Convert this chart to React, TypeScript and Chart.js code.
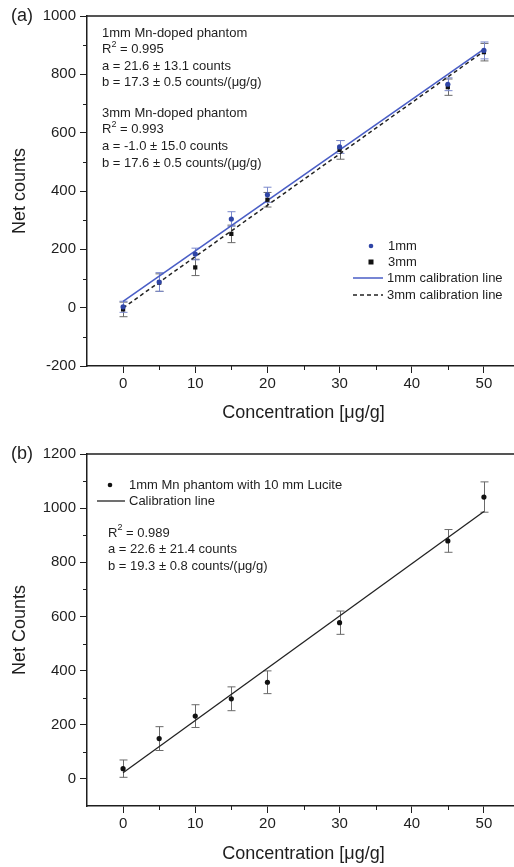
import React, { useEffect, useRef } from 'react';
import { Chart, registerables } from 'chart.js';

Chart.register(...registerables);

const FONT = '"Liberation Sans", Arial, Helvetica, sans-serif';
const TXT = '#1e1e1e';

// ---------- Panel (a) data ----------
const concA = [0, 5, 10, 15, 20, 30, 45, 50];
const counts1mm = [3, 88, 184, 304, 387, 551, 766, 882];
const err1mm = [19, 32, 20, 25, 26, 22, 22, 29];
const counts3mm = [-6, 86, 138, 253, 370, 541, 756, 876];
const err3mm = [25, 30, 28, 30, 25, 32, 28, 30];
const fitXA = [0, 50];
const fit1mm = [21.6, 886.6];
const fit3mm = [-1.0, 879.0];
const yTicksA = [-200, 0, 200, 400, 600, 800, 1000];
const yMinorA = [-100, 100, 300, 500, 700, 900];
const annotA1 = ['1mm Mn-doped phantom', 'R^2 = 0.995', 'a = 21.6 ± 13.1 counts', 'b = 17.3 ± 0.5 counts/(μg/g)'];
const annotA2 = ['3mm Mn-doped phantom', 'R^2 = 0.993', 'a = -1.0 ± 15.0 counts', 'b = 17.6 ± 0.5 counts/(μg/g)'];
const legendA = ['1mm', '3mm', '1mm calibration line', '3mm calibration line'];

// ---------- Panel (b) data ----------
const concB = [0, 5, 10, 15, 20, 30, 45, 50];
const countsB = [38, 149, 232, 296, 357, 577, 879, 1041];
const errB = [32, 44, 42, 44, 42, 43, 42, 56];
const fitXB = [0, 50];
const fitB = [22.6, 987.6];
const yTicksB = [0, 200, 400, 600, 800, 1000, 1200];
const yMinorB = [100, 300, 500, 700, 900, 1100];
const annotB = ['R^2 = 0.989', 'a = 22.6 ± 21.4 counts', 'b = 19.3 ± 0.8 counts/(μg/g)'];
const legendB = ['1mm Mn phantom with 10 mm Lucite', 'Calibration line'];

// shared x axis
const xTicks = [0, 10, 20, 30, 40, 50];
const xMinor = [5, 15, 25, 35, 45];

const BLUE_PT = '#2f45a6';
const BLUE_LINE = '#4a5ec6';
const BLUE_ERR = '#7a88cc';
const GRAY_ERR = '#6a6a6a';

function drawAnnotLine(ctx: CanvasRenderingContext2D, t: string, x: number, y: number) {
  ctx.font = `13px ${FONT}`;
  ctx.fillStyle = TXT;
  ctx.textBaseline = 'middle';
  ctx.textAlign = 'left';
  if (t.startsWith('R^2')) {
    ctx.fillText('R', x, y);
    const w = ctx.measureText('R').width;
    ctx.font = `9px ${FONT}`;
    ctx.fillText('2', x + w, y - 5);
    const w2 = ctx.measureText('2').width;
    ctx.font = `13px ${FONT}`;
    ctx.fillText(t.slice(3), x + w + w2, y);
  } else {
    ctx.fillText(t, x, y);
  }
}

type ErrSet = { xs: number[]; ys: number[]; errs: number[]; color: string };

function makePlugin(opts: {
  label: string;
  labelY: number;
  errSets: ErrSet[];
  yMinor: number[];
  extra: (ctx: CanvasRenderingContext2D) => void;
}) {
  return {
    id: 'custom' + opts.label,
    beforeDatasetsDraw(chart: any) {
      const ctx = chart.ctx as CanvasRenderingContext2D;
      const xs = chart.scales.x;
      const ys = chart.scales.y;
      ctx.save();
      for (const s of opts.errSets) {
        ctx.strokeStyle = s.color;
        ctx.lineWidth = 1;
        s.xs.forEach((xv, i) => {
          const px = Math.round(xs.getPixelForValue(xv)) + 0.5;
          const y1 = ys.getPixelForValue(s.ys[i] + s.errs[i]);
          const y2 = ys.getPixelForValue(s.ys[i] - s.errs[i]);
          ctx.beginPath();
          ctx.moveTo(px, y1);
          ctx.lineTo(px, y2);
          ctx.moveTo(px - 4, y1);
          ctx.lineTo(px + 4, y1);
          ctx.moveTo(px - 4, y2);
          ctx.lineTo(px + 4, y2);
          ctx.stroke();
        });
      }
      ctx.restore();
    },
    afterDraw(chart: any) {
      const ctx = chart.ctx as CanvasRenderingContext2D;
      const { left, right, top, bottom } = chart.chartArea;
      const xs = chart.scales.x;
      const ys = chart.scales.y;
      ctx.save();
      // frame
      ctx.strokeStyle = TXT;
      ctx.lineWidth = 1.5;
      ctx.beginPath();
      ctx.moveTo(left, top);
      ctx.lineTo(right, top);
      ctx.lineTo(right, bottom);
      ctx.stroke();
      // minor ticks
      ctx.lineWidth = 1;
      ctx.beginPath();
      for (const v of xMinor) {
        const px = Math.round(xs.getPixelForValue(v)) + 0.5;
        ctx.moveTo(px, bottom);
        ctx.lineTo(px, bottom + 4);
      }
      for (const v of opts.yMinor) {
        const py = Math.round(ys.getPixelForValue(v)) + 0.5;
        ctx.moveTo(left, py);
        ctx.lineTo(left - 4, py);
      }
      ctx.stroke();
      // panel label
      ctx.font = `18px ${FONT}`;
      ctx.fillStyle = TXT;
      ctx.textAlign = 'left';
      ctx.textBaseline = 'middle';
      ctx.fillText(opts.label, 11, opts.labelY);
      opts.extra(ctx);
      ctx.restore();
    },
  };
}

function configA(): any {
  const plugin = makePlugin({
    label: '(a)',
    labelY: 16,
    errSets: [
      { xs: concA, ys: counts3mm, errs: err3mm, color: GRAY_ERR },
      { xs: concA, ys: counts1mm, errs: err1mm, color: BLUE_ERR },
    ],
    yMinor: yMinorA,
    extra: (ctx) => {
      annotA1.forEach((t, i) => drawAnnotLine(ctx, t, 102, 33 + i * 16.5));
      annotA2.forEach((t, i) => drawAnnotLine(ctx, t, 102, 113 + i * 16.8));
      // legend
      const lx = 388;
      const ly = [246, 262, 278, 295];
      ctx.fillStyle = BLUE_PT;
      ctx.beginPath();
      ctx.arc(371, ly[0], 2.3, 0, Math.PI * 2);
      ctx.fill();
      ctx.fillStyle = '#111';
      ctx.fillRect(368.5, ly[1] - 2.5, 5, 5);
      ctx.lineWidth = 1.5;
      ctx.strokeStyle = BLUE_LINE;
      ctx.beginPath();
      ctx.moveTo(353, ly[2]);
      ctx.lineTo(383, ly[2]);
      ctx.stroke();
      ctx.strokeStyle = '#222';
      ctx.setLineDash([4, 3]);
      ctx.beginPath();
      ctx.moveTo(353, ly[3]);
      ctx.lineTo(383, ly[3]);
      ctx.stroke();
      ctx.setLineDash([]);
      legendA.forEach((t, i) => drawAnnotLine(ctx, t, i < 2 ? lx : 387, ly[i]));
    },
  });
  return {
    type: 'scatter',
    data: {
      datasets: [
        {
          label: '1mm',
          data: concA.map((x, i) => ({ x, y: counts1mm[i] })),
          pointStyle: 'circle',
          pointRadius: 2.6,
          pointBackgroundColor: BLUE_PT,
          pointBorderWidth: 0,
          showLine: false,
        },
        {
          label: '3mm',
          data: concA.map((x, i) => ({ x, y: counts3mm[i] })),
          pointStyle: 'rect',
          pointRadius: 3,
          pointBackgroundColor: '#111',
          pointBorderWidth: 0,
          showLine: false,
        },
        {
          type: 'line',
          label: '1mm calibration line',
          data: fitXA.map((x, i) => ({ x, y: fit1mm[i] })),
          borderColor: BLUE_LINE,
          borderWidth: 1.6,
          pointRadius: 0,
          fill: false,
        },
        {
          type: 'line',
          label: '3mm calibration line',
          data: fitXA.map((x, i) => ({ x, y: fit3mm[i] })),
          borderColor: '#222',
          borderWidth: 1.5,
          borderDash: [4, 3],
          pointRadius: 0,
          fill: false,
        },
      ],
    },
    options: commonOptions(-200, 1000, yTicksA, 'Net counts', 16, 64, 6),
    plugins: [plugin],
  };
}

function configB(): any {
  const plugin = makePlugin({
    label: '(b)',
    labelY: 24,
    errSets: [{ xs: concB, ys: countsB, errs: errB, color: GRAY_ERR }],
    yMinor: yMinorB,
    extra: (ctx) => {
      // legend
      ctx.fillStyle = '#111';
      ctx.beginPath();
      ctx.arc(110, 55, 2.3, 0, Math.PI * 2);
      ctx.fill();
      ctx.strokeStyle = '#222';
      ctx.lineWidth = 1.3;
      ctx.beginPath();
      ctx.moveTo(97, 71);
      ctx.lineTo(125, 71);
      ctx.stroke();
      drawAnnotLine(ctx, legendB[0], 129, 55);
      drawAnnotLine(ctx, legendB[1], 129, 71);
      annotB.forEach((t, i) => drawAnnotLine(ctx, t, 108, 103 + i * 16.7));
    },
  });
  return {
    type: 'scatter',
    data: {
      datasets: [
        {
          label: '1mm Mn phantom with 10 mm Lucite',
          data: concB.map((x, i) => ({ x, y: countsB[i] })),
          pointStyle: 'circle',
          pointRadius: 2.6,
          pointBackgroundColor: '#111',
          pointBorderWidth: 0,
          showLine: false,
        },
        {
          type: 'line',
          label: 'Calibration line',
          data: fitXB.map((x, i) => ({ x, y: fitB[i] })),
          borderColor: '#222',
          borderWidth: 1.3,
          pointRadius: 0,
          fill: false,
        },
      ],
    },
    options: commonOptions(-100, 1200, yTicksB, 'Net Counts', 24, 61, 2),
    plugins: [plugin],
  };
}

function commonOptions(
  yMin: number,
  yMax: number,
  yTicks: number[],
  yTitle: string,
  padTop: number,
  xHeight: number,
  xTitlePadBottom: number
): any {
  return {
    responsive: false,
    animation: false,
    layout: { padding: { top: padTop, right: 4, left: 0, bottom: 0 } },
    plugins: { legend: { display: false }, tooltip: { enabled: false } },
    scales: {
      x: {
        type: 'linear',
        position: 'bottom',
        min: -5,
        max: 55,
        afterBuildTicks: (s: any) => {
          s.ticks = xTicks.map((v) => ({ value: v }));
        },
        afterFit: (s: any) => {
          s.height = xHeight;
        },
        ticks: {
          font: { family: FONT, size: 15 },
          color: TXT,
          padding: 2,
          maxRotation: 0,
          callback: (v: number) => String(v),
        },
        grid: { drawOnChartArea: false, tickLength: 7, tickColor: TXT, tickWidth: 1 },
        border: { color: TXT, width: 1.5 },
        title: {
          display: true,
          text: 'Concentration [μg/g]',
          font: { family: FONT, size: 18 },
          color: TXT,
          padding: { top: 0, bottom: xTitlePadBottom },
        },
      },
      y: {
        type: 'linear',
        position: 'left',
        min: yMin,
        max: yMax,
        afterBuildTicks: (s: any) => {
          s.ticks = yTicks.map((v) => ({ value: v }));
        },
        afterFit: (s: any) => {
          s.width = 87;
        },
        ticks: {
          font: { family: FONT, size: 15 },
          color: TXT,
          padding: 4,
          callback: (v: number) => String(v),
        },
        grid: { drawOnChartArea: false, tickLength: 7, tickColor: TXT, tickWidth: 1 },
        border: { color: TXT, width: 1.5 },
        title: {
          display: true,
          text: yTitle,
          font: { family: FONT, size: 18 },
          color: TXT,
          padding: { top: 9, bottom: 0 },
        },
      },
    },
  };
}

function Panel({ makeConfig, top, width, height }: { makeConfig: () => any; top: number; width: number; height: number }) {
  const ref = useRef<HTMLCanvasElement>(null);
  useEffect(() => {
    const chart = new Chart(ref.current as HTMLCanvasElement, makeConfig());
    return () => chart.destroy();
  }, []);
  return (
    <canvas
      ref={ref}
      width={width}
      height={height}
      style={{ position: 'absolute', left: 0, top, width, height, display: 'block' }}
    />
  );
}

export default function App() {
  return (
    <div
      style={{
        position: 'absolute',
        left: 0,
        top: 0,
        width: 514,
        height: 867,
        overflow: 'hidden',
        background: '#fff',
      }}
    >
      <Panel makeConfig={configA} top={0} width={524} height={430} />
      <Panel makeConfig={configB} top={430} width={524} height={437} />
    </div>
  );
}
